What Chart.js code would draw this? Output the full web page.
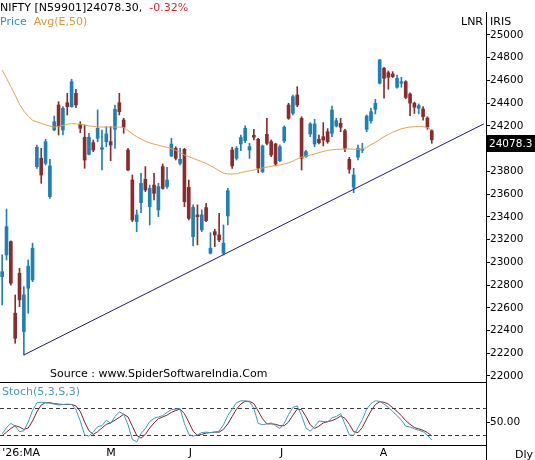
<!DOCTYPE html>
<html>
<head>
<meta charset="utf-8">
<script src="https://cdn.jsdelivr.net/npm/chart.js@4.4.1/dist/chart.umd.min.js"></script>
<style>
  html, body { margin: 0; padding: 0; background: #fff; }
  #wrap { position: relative; width: 535px; height: 460px; overflow: hidden;
          font-family: "DejaVu Sans", Verdana, sans-serif; font-size: 11px; color: #000; }
  canvas { position: absolute; left: 0; }
  #main { top: 0; }
  #stoch { top: 370px; }
  .lbl { position: absolute; white-space: nowrap; line-height: 14px; }
</style>
</head>
<body>
<div id="wrap">
  <canvas id="main" width="535" height="395"></canvas>
  <canvas id="stoch" width="535" height="90"></canvas>
  <div class="lbl" style="left:0;top:1px">NIFTY [N59901]24078.30,<span style="color:#d42a2a;margin-left:7px">-0.32%</span></div>
  <div class="lbl" style="left:0;top:15px"><span style="color:#3d8db8">Price</span><span style="color:#e0973c;margin-left:7px">Avg(E,50)</span></div>
  <div class="lbl" style="left:461px;top:15px">LNR</div>
  <div class="lbl" style="left:490px;top:15px">IRIS</div>
  <div class="lbl" style="left:50px;top:367px">Source : www.SpiderSoftwareIndia.Com</div>
  <div class="lbl" style="left:2px;top:385px;color:#4a9bb3">Stoch(5,3,S,3)</div>
  <div class="lbl" style="left:515px;top:448px">Dly</div>
</div>
<script>
// daily candles
const opens = [22874, 23065, 23182, 22552, 22904, 22390, 22772, 22845, 23842, 23915,
  23871, 23578, 24164, 24384, 24164, 24404, 24369, 24487, 24214, 24100,
  23950, 24053, 24091, 23994, 24061, 24061, 24170, 24404, 24252, 23988,
  23724, 23358, 23525, 23730, 23490, 23680, 23461, 23842, 23666, 23936,
  24003, 23871, 23994, 23660, 23226, 23417, 23285, 23481, 23080, 23270,
  23241, 23080, 23408, 23988, 23915, 24041, 24070, 23988, 24117, 24082,
  23798, 24126, 24061, 24041, 23894, 24067, 24384, 24311, 24472, 24267,
  23929, 24129, 24041, 24082, 24105, 24149, 24135, 24199, 24223, 24158,
  23906, 23660, 23924, 23985, 24170, 24246, 24346, 24575, 24707, 24668,
  24657, 24540, 24575, 24589, 24480, 24400, 24355, 24349, 24270, 24158];
const highs = [23065, 23469, 23190, 22713, 22948, 22786, 23021, 23168, 24032, 24003,
  24082, 23906, 24287, 24413, 24369, 24487, 24610, 24522, 24237, 24208,
  24135, 24076, 24340, 24164, 24193, 24193, 24384, 24487, 24267, 24003,
  23768, 23461, 23783, 23842, 23680, 23783, 23695, 23865, 23836, 24091,
  24017, 24003, 24003, 23724, 23505, 23505, 23461, 23519, 23261, 23291,
  23432, 23329, 23651, 24012, 24017, 24120, 24200, 24047, 24170, 24091,
  24032, 24267, 24076, 24047, 24032, 24200, 24399, 24472, 24545, 24281,
  23985, 24229, 24258, 24120, 24229, 24176, 24375, 24267, 24267, 24170,
  23924, 23827, 24032, 24047, 24296, 24355, 24434, 24786, 24716, 24683,
  24677, 24648, 24628, 24598, 24490, 24410, 24393, 24370, 24280, 24165];
const lows = [22625, 23021, 22800, 22288, 22610, 22185, 22552, 22830, 23827, 23695,
  23856, 23563, 24158, 24120, 24120, 24296, 24364, 24360, 24140, 23827,
  23944, 23973, 24061, 23812, 24017, 23894, 24003, 24296, 24135, 23806,
  23358, 23270, 23437, 23622, 23329, 23548, 23402, 23643, 23651, 23929,
  23900, 23856, 23490, 23373, 23144, 23153, 23270, 23358, 23073, 23138,
  23182, 23065, 23329, 23827, 23900, 23982, 24053, 23915, 24076, 23789,
  23789, 24032, 23929, 23848, 23885, 24053, 24258, 24296, 24369, 23812,
  23922, 24105, 24017, 24041, 24024, 24047, 24105, 24190, 24149, 23973,
  23783, 23613, 23900, 23965, 24149, 24223, 24305, 24569, 24443, 24522,
  24625, 24531, 24540, 24440, 24290, 24310, 24305, 24250, 24170, 24047];
const closes = [22918, 23314, 22816, 22332, 22669, 22713, 22966, 23124, 24012, 23768,
  24061, 23848, 24237, 24193, 24355, 24369, 24589, 24384, 24179, 23900,
  24100, 23988, 24179, 24009, 24129, 24032, 24346, 24325, 24188, 23812,
  23373, 23417, 23695, 23636, 23651, 23607, 23666, 23651, 23724, 24041,
  23915, 23906, 23533, 23387, 23484, 23402, 23417, 23367, 23124, 23241,
  23197, 23168, 23630, 23848, 24003, 24097, 24179, 24017, 24100, 23827,
  24024, 24047, 23944, 23865, 24017, 24188, 24267, 24457, 24384, 23915,
  23973, 24217, 24217, 24053, 24076, 24061, 24340, 24246, 24188, 24003,
  23818, 23768, 24003, 23997, 24287, 24325, 24399, 24780, 24619, 24628,
  24633, 24619, 24589, 24450, 24400, 24365, 24378, 24281, 24190, 24078.3];

// exponential average (50), as drawn
const ema50 = [24692, 24620, 24545, 24470, 24390, 24330, 24285, 24250, 24235, 24222,
  24210, 24198, 24190, 24195, 24205, 24215, 24220, 24218, 24215, 24208,
  24200, 24195, 24192, 24190, 24190, 24190, 24190, 24190, 24185, 24160,
  24130, 24105, 24085, 24065, 24050, 24040, 24030, 24020, 24010, 24000,
  23985, 23965, 23945, 23930, 23915, 23900, 23885, 23870, 23850, 23830,
  23805, 23785, 23778, 23776, 23780, 23790, 23797, 23805, 23812, 23820,
  23830, 23837, 23845, 23851, 23856, 23865, 23875, 23890, 23910, 23925,
  23935, 23942, 23953, 23965, 23975, 23985, 23990, 23993, 23995, 23997,
  23997, 23995, 23995, 23997, 24010, 24035, 24055, 24080, 24105, 24125,
  24145, 24160, 24175, 24183, 24190, 24193, 24195, 24193, 24185, 24165];

// stochastic %K and %D
const stochK = [24, 38, 47, 41, 29, 31, 50, 75, 92, 93,
  92, 91, 89, 87, 88, 89, 88, 77, 52, 22,
  19, 28, 40, 42, 54, 47, 62, 72, 67, 44,
  12, 7, 25, 36, 51, 58, 61, 64, 71, 77,
  78, 79, 47, 23, 19, 22, 27, 28, 27, 28,
  30, 44, 64, 78, 92, 96, 96, 94, 80, 47,
  44, 46, 48, 42, 36, 47, 66, 82, 85, 64,
  37, 30, 40, 52, 51, 50, 59, 62, 68, 45,
  22, 21, 38, 55, 78, 90, 96, 95, 89, 82,
  73, 64, 54, 41, 39, 35, 32, 29, 21, 11];
const stochD = [20, 28, 36, 42, 39, 34, 37, 52, 72, 87,
  92, 92, 90, 89, 88, 88, 88, 85, 73, 50,
  31, 23, 29, 37, 45, 48, 54, 60, 67, 61,
  41, 21, 15, 23, 37, 48, 57, 61, 65, 71,
  75, 78, 68, 50, 30, 21, 23, 26, 27, 28,
  28, 34, 46, 62, 78, 89, 95, 95, 90, 74,
  57, 46, 46, 45, 42, 42, 50, 65, 78, 77,
  62, 44, 36, 41, 48, 51, 53, 57, 63, 58,
  45, 29, 27, 38, 57, 74, 88, 94, 93, 89,
  81, 73, 64, 53, 45, 38, 35, 32, 27, 20];

// support line drawn on the chart: from the March low to the right edge
const trendStart = { index: 5, value: 22185 };
const trendEnd = { index: 111, value: 24218 };

const priceTicks = [22000, 22200, 22400, 22600, 22800, 23000, 23200, 23400,
  23600, 23800, 24000, 24200, 24400, 24600, 24800, 25000];
const stochLevels = [20, 50, 80];
const monthLabels = { 0: "'26:MA", 24: "M", 43: "J", 64: "J", 87: "A" };

const slotCount = 112;              // 100 sessions + empty space on the right
const slots = Array.from({ length: slotCount }, (_, i) => i);

const UP = "#1f80b3";
const DOWN = "#8b2c2c";
const axisWidth = 49;
const font = { family: "DejaVu Sans", size: 11 };

const candleColors = closes.map((c, i) => (c >= opens[i] ? UP : DOWN));
const wicks = highs.map((h, i) => [lows[i], h]);
const bodies = opens.map((o, i) => [Math.min(o, closes[i]), Math.max(o, closes[i])]);
const trendData = [
  { x: trendStart.index, y: trendStart.value },
  { x: trendEnd.index, y: trendEnd.value }
];

const lastPriceBox = {
  id: "lastPriceBox",
  afterDraw(chart) {
    const { ctx, chartArea } = chart;
    const last = closes[closes.length - 1];
    const y = Math.round(chart.scales.y.getPixelForValue(last)) + 3;
    ctx.save();
    ctx.fillStyle = "#000";
    ctx.fillRect(chartArea.right + 1, y - 8, 60, 17);
    ctx.fillStyle = "#fff";
    ctx.font = '10.5px "DejaVu Sans"';
    ctx.textBaseline = "middle";
    ctx.fillText(last.toFixed(1), chartArea.right + 3, y + 1);
    ctx.restore();
  }
};

const panelFrame = {
  id: "panelFrame",
  afterDraw(chart) {
    const { ctx, chartArea } = chart;
    ctx.save();
    ctx.strokeStyle = "#000";
    ctx.lineWidth = 1;
    ctx.beginPath();
    ctx.moveTo(0, chartArea.top + 0.5);
    ctx.lineTo(chartArea.right, chartArea.top + 0.5);
    ctx.moveTo(chartArea.right + 0.5, chartArea.bottom);
    ctx.lineTo(chartArea.right + 0.5, chart.height);
    ctx.stroke();
    ctx.restore();
  }
};

new Chart(document.getElementById("main"), {
  type: "bar",
  data: {
    labels: slots,
    datasets: [
      { type: "line", data: trendData, borderColor: "#1c1c78", borderWidth: 1, pointRadius: 0, order: 1 },
      { type: "line", data: ema50, borderColor: "#e2a352", borderWidth: 1, pointRadius: 0, order: 2 },
      { data: bodies, backgroundColor: candleColors, barThickness: 3, minBarLength: 1, grouped: false, order: 3 },
      { data: wicks, backgroundColor: candleColors, barThickness: 1, grouped: false, order: 4 }
    ]
  },
  options: {
    responsive: false,
    animation: false,
    events: [],
    layout: { padding: { top: 12, bottom: 14, left: 0, right: 0 } },
    plugins: { legend: { display: false }, tooltip: { enabled: false } },
    scales: {
      x: { type: "category", offset: true, display: false },
      y: {
        position: "right",
        min: 21956,
        max: 25202,
        afterBuildTicks: (s) => { s.ticks = priceTicks.map((v) => ({ value: v })); },
        afterFit: (s) => { s.width = axisWidth; },
        grid: { drawOnChartArea: false, drawTicks: true, tickLength: 4, tickColor: "#000" },
        border: { display: true, color: "#000", width: 1 },
        ticks: { color: "#000", padding: 0, font: { family: "DejaVu Sans", size: 10.5 }, callback: (v) => String(v) }
      }
    }
  },
  plugins: [lastPriceBox]
});

new Chart(document.getElementById("stoch"), {
  type: "line",
  data: {
    labels: slots,
    datasets: [
      { data: stochD, borderColor: "#7a2233", borderWidth: 1, pointRadius: 0, order: 2 },
      { data: stochK, borderColor: "#3c9bb0", borderWidth: 1, pointRadius: 0, order: 1 }
    ]
  },
  options: {
    responsive: false,
    animation: false,
    events: [],
    layout: { padding: { top: 12, bottom: 0, left: 0, right: 0 } },
    plugins: { legend: { display: false }, tooltip: { enabled: false } },
    scales: {
      x: {
        type: "category",
        offset: true,
        grid: { display: false, drawTicks: false },
        border: { display: true, color: "#000", width: 1 },
        afterFit: (s) => { s.height = 15; },
        ticks: {
          autoSkip: false, maxRotation: 0, minRotation: 0, align: "start", padding: 2,
          color: "#000", font,
          callback: (v, i) => monthLabels[i] || ""
        }
      },
      y: {
        position: "right",
        min: 0,
        max: 137,
        afterBuildTicks: (s) => { s.ticks = stochLevels.map((v) => ({ value: v })); },
        afterFit: (s) => { s.width = axisWidth; },
        grid: {
          drawOnChartArea: true,
          color: (c) => (c.tick && c.tick.value === 50 ? "rgba(0,0,0,0)" : "#3a3a3a"),
          tickColor: (c) => (c.tick && c.tick.value === 50 ? "#000" : "rgba(0,0,0,0)"),
          tickLength: 4
        },
        border: { display: true, color: "#000", width: 1, dash: [4, 3] },
        ticks: { color: "#000", padding: 0, font: { family: "DejaVu Sans", size: 10.5 }, callback: (v) => (v === 50 ? "50.00" : "") }
      }
    }
  },
  plugins: [panelFrame]
});
</script>
</body>
</html>
